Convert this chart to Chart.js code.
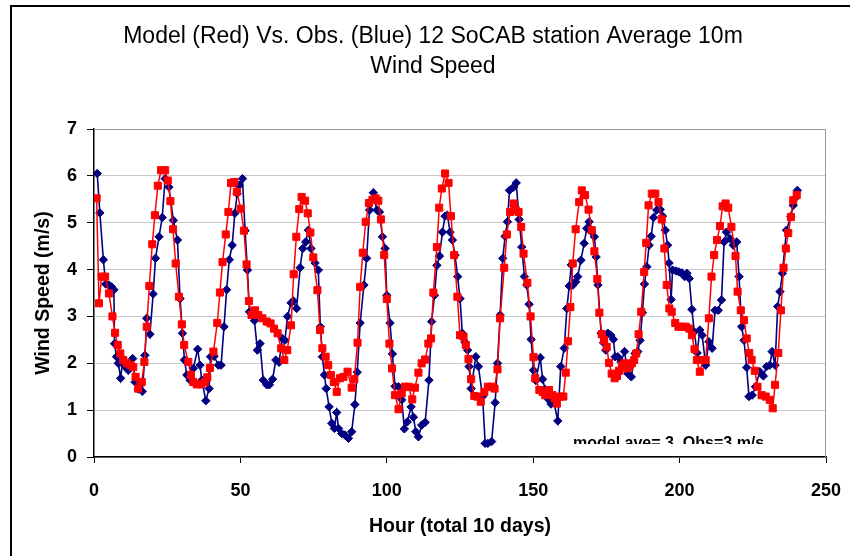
<!DOCTYPE html>
<html>
<head>
<meta charset="utf-8">
<script src="https://cdn.jsdelivr.net/npm/chart.js@4.4.1/dist/chart.umd.min.js"></script>
<style>
  html, body { margin: 0; padding: 0; background: #fff; }
  canvas { display: block; }
</style>
</head>
<body>
<canvas id="windChart" width="850" height="556"></canvas>
<script>
// values (hour, m/s)
const modelHours = [
  0.9, 1.7, 2.6, 3.8, 5.1, 6.3, 7.2, 8.1, 9.0, 10.0,
  11.2, 12.5, 13.4, 14.2, 15.1, 16.3, 17.2, 18.0, 18.9, 19.9,
  20.8, 21.8, 22.9, 24.3, 25.2, 26.1, 27.0, 27.9, 29.0, 30.0,
  30.8, 32.2, 33.1, 33.9, 35.1, 36.6, 37.9, 38.7, 39.6, 40.8,
  42.1, 43.0, 43.9, 45.0, 45.9, 46.8, 47.9, 48.8, 50.1, 51.2,
  52.1, 52.9, 53.8, 55.0, 56.1, 57.5, 59.0, 60.3, 61.5, 62.7,
  63.9, 65.0, 66.0, 67.3, 68.2, 69.1, 70.1, 70.9, 72.1, 73.0,
  73.9, 74.9, 76.3, 77.2, 78.0, 79.1, 80.0, 80.9, 81.9, 82.9,
  84.0, 85.2, 86.6, 88.0, 88.9, 90.0, 90.9, 91.8, 92.8, 93.9,
  95.1, 96.2, 97.1, 98.0, 99.1, 100.0, 100.9, 101.8, 102.8, 104.0,
  105.1, 106.2, 107.4, 108.7, 109.6, 110.8, 111.9, 113.1, 114.2, 115.1,
  115.9, 117.1, 117.9, 118.8, 119.9, 121.1, 121.9, 123.0, 124.1, 125.0,
  126.2, 127.0, 127.9, 128.8, 129.9, 130.9, 132.1, 133.3, 134.5, 135.8,
  136.8, 137.8, 138.7, 140.1, 141.0, 142.1, 143.3, 144.0, 145.0, 145.9,
  146.7, 148.0, 149.1, 150.1, 150.7, 152.1, 153.2, 154.1, 155.4, 156.6,
  157.3, 158.1, 159.2, 160.3, 161.1, 161.9, 162.7, 163.5, 164.5, 165.7,
  166.6, 167.7, 168.9, 170.0, 170.9, 171.9, 172.6, 173.4, 174.2, 175.1,
  175.9, 176.8, 177.8, 178.6, 179.3, 180.3, 181.2, 182.0, 182.8, 183.7,
  184.5, 185.2, 186.0, 186.9, 187.9, 188.6, 189.4, 190.5, 191.7, 192.8,
  193.9, 194.8, 195.6, 196.5, 197.3, 198.5, 199.6, 200.8, 202.1, 203.3,
  204.2, 205.1, 205.9, 206.9, 208.1, 208.9, 210.0, 210.9, 211.8, 212.8,
  213.8, 214.7, 215.7, 216.6, 217.7, 219.1, 219.8, 220.9, 222.0, 222.9,
  223.8, 224.6, 225.7, 226.6, 228.0, 229.4, 230.8, 231.8, 232.6, 233.7,
  234.6, 235.5, 236.3, 237.1, 238.0, 238.8, 240.0
];
const modelSpeed = [
  5.52, 3.28, 3.85, 3.85, 3.49, 3.00, 2.65, 2.39, 2.21, 2.07,
  2.00, 1.96, 1.92, 1.71, 1.46, 1.60, 2.03, 2.78, 3.65, 4.54,
  5.16, 5.79, 6.12, 6.12, 5.90, 5.46, 4.86, 4.13, 3.42, 2.83,
  2.39, 2.03, 1.75, 1.60, 1.55, 1.55, 1.60, 1.70, 1.90, 2.25,
  2.86, 3.51, 4.16, 4.75, 5.23, 5.85, 5.87, 5.66, 5.30, 4.83,
  4.11, 3.33, 3.03, 3.13, 3.03, 2.96, 2.89, 2.85, 2.74, 2.64,
  2.32, 2.07, 2.28, 2.81, 3.90, 4.70, 5.29, 5.55, 5.47, 5.20,
  4.79, 4.26, 3.56, 2.71, 2.32, 2.14, 1.96, 1.75, 1.60, 1.39,
  1.68, 1.71, 1.82, 1.48, 1.66, 2.44, 3.63, 4.36, 5.02, 5.42,
  5.49, 5.52, 5.47, 5.07, 4.31, 3.37, 2.42, 1.89, 1.32, 1.02,
  1.36, 1.50, 1.50, 1.23, 1.48, 1.80, 2.00, 2.08, 2.42, 2.53,
  3.51, 4.48, 5.32, 5.73, 6.05, 5.85, 5.14, 4.31, 3.42, 2.60,
  2.57, 2.39, 2.09, 1.66, 1.30, 1.29, 1.18, 1.39, 1.50, 1.50,
  1.46, 1.87, 2.96, 4.04, 4.75, 5.23, 5.41, 5.27, 5.23, 4.91,
  4.34, 3.72, 3.00, 2.13, 1.68, 1.43, 1.39, 1.32, 1.43, 1.32,
  1.25, 1.14, 1.29, 1.29, 1.80, 2.47, 3.20, 4.13, 4.86, 5.44,
  5.69, 5.59, 5.28, 4.84, 4.39, 3.80, 3.08, 2.62, 2.50, 2.35,
  2.01, 1.78, 1.68, 1.73, 1.84, 1.96, 2.00, 1.89, 1.93, 2.00,
  2.07, 2.21, 2.62, 3.10, 3.95, 4.57, 5.37, 5.62, 5.62, 5.44,
  5.07, 4.45, 3.67, 3.17, 3.10, 2.86, 2.78, 2.78, 2.78, 2.74,
  2.60, 2.30, 2.07, 1.82, 2.07, 2.07, 2.96, 3.85, 4.31, 4.63,
  4.93, 5.35, 5.41, 5.32, 4.91, 4.29, 3.53, 3.13, 2.92, 2.53,
  2.22, 2.07, 1.84, 1.50, 1.32, 1.29, 1.22, 1.04, 1.54, 2.22,
  3.13, 4.04, 4.45, 4.78, 5.12, 5.48, 5.59
];
const obsHours = [
  1.1, 2.0, 3.2, 4.0, 5.1, 6.0, 6.8, 7.0, 7.7, 8.3,
  9.1, 9.8, 10.6, 11.7, 13.2, 14.0, 15.1, 16.5, 17.4, 18.0,
  19.1, 20.2, 21.0, 22.2, 23.3, 24.3, 25.6, 27.1, 28.5, 29.4,
  30.2, 30.9, 31.7, 32.8, 33.9, 35.4, 36.2, 36.8, 38.2, 39.3,
  39.8, 41.0, 42.5, 43.4, 44.4, 45.3, 46.2, 47.2, 48.1, 48.9,
  49.6, 50.7, 51.6, 52.4, 53.1, 53.8, 54.8, 55.8, 56.7, 57.8,
  59.0, 59.9, 61.0, 62.1, 63.2, 64.3, 65.2, 66.1, 67.3, 68.1,
  69.2, 70.4, 71.3, 72.3, 73.2, 74.1, 75.5, 76.6, 77.3, 78.0,
  78.7, 79.3, 80.3, 81.2, 82.1, 82.9, 83.5, 84.6, 85.7, 86.9,
  88.0, 89.1, 89.9, 90.9, 92.2, 93.1, 94.1, 95.4, 96.6, 97.5,
  98.5, 99.4, 100.0, 101.1, 101.9, 102.8, 104.0, 105.1, 106.0, 107.0,
  108.3, 109.1, 109.9, 110.8, 111.9, 113.1, 114.4, 115.3, 116.3, 117.1,
  118.0, 119.0, 119.9, 120.7, 121.6, 122.4, 123.3, 124.2, 125.0, 125.8,
  126.7, 127.6, 128.1, 128.8, 130.4, 131.3, 132.7, 133.6, 134.5, 135.8,
  137.0, 137.8, 138.7, 139.6, 140.4, 141.2, 141.9, 143.3, 144.2, 145.2,
  146.1, 147.0, 147.8, 148.6, 149.3, 150.1, 150.9, 152.4, 153.2, 154.1,
  155.2, 156.1, 156.9, 158.4, 159.4, 160.6, 161.5, 162.3, 163.0, 163.6,
  164.5, 165.2, 166.3, 167.4, 168.3, 169.1, 170.0, 170.9, 171.5, 172.1,
  173.2, 174.0, 174.8, 175.5, 176.5, 177.4, 178.0, 178.9, 180.0, 181.2,
  182.3, 183.5, 184.8, 185.7, 186.5, 187.3, 188.0, 188.8, 189.6, 190.3,
  191.1, 192.2, 193.4, 194.2, 195.1, 195.9, 196.4, 197.1, 197.6, 198.8,
  199.8, 200.8, 201.7, 202.5, 203.3, 204.2, 205.0, 206.0, 206.9, 207.7,
  208.9, 210.0, 211.1, 212.1, 213.2, 214.3, 215.2, 216.0, 217.2, 218.3,
  219.5, 220.3, 221.2, 222.0, 222.9, 223.7, 224.8, 225.9, 227.4, 228.6,
  229.7, 230.8, 231.6, 232.6, 233.5, 234.3, 235.1, 236.5, 238.0, 238.8,
  239.4, 240.2
];
const obsSpeed = [
  6.05, 5.21, 4.21, 3.69, 3.67, 3.63, 3.57, 2.42, 2.14, 2.00,
  1.68, 2.07, 1.93, 1.85, 2.10, 1.60, 1.45, 1.40, 2.17, 2.96,
  2.62, 3.48, 4.24, 4.70, 5.11, 5.94, 5.76, 5.05, 4.63, 3.38,
  2.64, 2.07, 1.75, 1.64, 1.89, 2.30, 1.96, 1.64, 1.20, 1.46,
  2.14, 2.15, 1.96, 1.96, 2.78, 3.57, 4.21, 4.52, 5.20, 5.62,
  5.80, 5.94, 4.83, 3.99, 3.10, 3.06, 2.91, 2.28, 2.42, 1.64,
  1.54, 1.54, 1.66, 2.07, 2.02, 2.53, 2.49, 3.00, 3.29, 3.33,
  3.17, 4.04, 4.45, 4.59, 4.84, 4.45, 4.14, 3.99, 2.78, 2.14,
  1.75, 1.46, 1.07, 0.72, 0.61, 0.95, 0.61, 0.50, 0.47, 0.40,
  0.54, 1.12, 1.81, 2.86, 3.67, 4.24, 5.27, 5.64, 5.27, 5.23,
  4.70, 4.45, 3.45, 2.86, 2.20, 1.51, 1.50, 1.22, 0.60, 0.75,
  1.07, 0.85, 0.54, 0.43, 0.68, 0.74, 1.64, 2.89, 3.45, 4.09,
  4.29, 4.80, 5.14, 5.16, 4.80, 4.63, 4.31, 3.85, 3.38, 2.64,
  2.45, 2.28, 1.93, 1.46, 2.14, 1.93, 1.29, 0.29, 0.29, 0.33,
  1.16, 2.00, 3.03, 4.24, 4.71, 5.02, 5.69, 5.76, 5.85, 5.07,
  4.48, 3.85, 3.67, 3.26, 2.51, 1.85, 1.63, 2.12, 1.66, 1.44,
  1.23, 1.13, 1.22, 0.77, 1.93, 2.32, 3.17, 3.65, 4.10, 3.67,
  3.74, 3.85, 4.20, 4.56, 4.88, 5.02, 4.80, 4.70, 4.27, 3.67,
  2.64, 2.44, 2.28, 2.64, 2.60, 2.51, 2.14, 2.14, 2.03, 2.25,
  1.78, 1.71, 2.21, 2.25, 2.49, 3.08, 3.69, 4.06, 4.52, 4.71,
  5.11, 5.27, 5.28, 5.14, 4.84, 4.52, 4.14, 3.36, 3.99, 3.97,
  3.95, 3.93, 3.85, 3.92, 3.81, 3.15, 2.67, 2.22, 2.71, 2.60,
  1.96, 2.46, 2.32, 3.13, 3.13, 3.35, 4.59, 4.80, 4.66, 4.52,
  4.59, 3.85, 2.78, 2.49, 1.91, 1.29, 1.32, 1.50, 1.82, 1.73,
  1.93, 1.96, 2.25, 1.96, 3.21, 3.53, 3.92, 4.84, 5.14, 5.37,
  5.52, 5.69
];

const xTickValues = [0, 50, 100, 150, 200, 250];
const yTickValues = [0, 1, 2, 3, 4, 5, 6, 7];

const chartTitle = ['Model (Red) Vs. Obs. (Blue) 12 SoCAB station Average 10m', 'Wind Speed'];
const xTitle = 'Hour (total 10 days)';
const yTitle = 'Wind Speed (m/s)';
const noteText = 'model ave= 3, Obs=3 m/s';

const FONT = '"Liberation Sans", Arial, sans-serif';
Chart.defaults.font.family = FONT;
Chart.defaults.color = '#000';

function toPoints(hours, values) {
    return hours.map((h, i) => ({ x: h, y: values[i] }));
}

const decorPlugin = {
    id: 'decor',
    beforeDraw(chart) {
        const ctx = chart.ctx;
        ctx.save();
        ctx.fillStyle = '#fff';
        ctx.fillRect(0, 0, chart.width, chart.height);
        // outer frame (left and top)
        ctx.strokeStyle = '#000';
        ctx.lineWidth = 2;
        ctx.beginPath();
        ctx.moveTo(11, chart.height);
        ctx.lineTo(11, 6);
        ctx.lineTo(chart.width, 6);
        ctx.stroke();
        ctx.restore();
    },
    beforeDatasetsDraw(chart) {
        const { ctx, chartArea } = chart;
        ctx.save();
        ctx.strokeStyle = '#999';
        ctx.lineWidth = 1;
        ctx.beginPath();
        ctx.moveTo(chartArea.left, chartArea.top + 0.5);
        ctx.lineTo(chartArea.right - 0.5, chartArea.top + 0.5);
        ctx.lineTo(chartArea.right - 0.5, chartArea.bottom);
        ctx.stroke();
        ctx.restore();
    },
    afterDraw(chart) {
        const { ctx, chartArea } = chart;
        ctx.save();
        ctx.fillStyle = '#000';
        ctx.textAlign = 'center';
        ctx.textBaseline = 'middle';

        ctx.font = '23px ' + FONT;
        ctx.fillText(chartTitle[0], 433, 37);
        ctx.fillText(chartTitle[1], 433, 67);

        ctx.font = 'bold 19.5px ' + FONT;
        ctx.fillText(xTitle, (chartArea.left + chartArea.right) / 2, 527);

        ctx.save();
        ctx.translate(44, (chartArea.top + chartArea.bottom) / 2);
        ctx.rotate(-Math.PI / 2);
        ctx.fillText(yTitle, 0, 0);
        ctx.restore();

        // note is cut off at its baseline in the original
        ctx.beginPath();
        ctx.rect(560, 420, 260, 24);
        ctx.clip();
        ctx.textAlign = 'left';
        ctx.textBaseline = 'alphabetic';
        ctx.font = 'bold 16px ' + FONT;
        ctx.fillText(noteText, 573, 447.5);
        ctx.restore();
    }
};

const ctx = document.getElementById('windChart').getContext('2d');
new Chart(ctx, {
    type: 'line',
    data: {
        datasets: [
            {
                label: 'Model',
                data: toPoints(modelHours, modelSpeed),
                borderColor: '#ff0000',
                backgroundColor: '#ff0000',
                borderWidth: 1.5,
                pointStyle: 'rect',
                pointRadius: 5,
                pointBorderWidth: 1,
                tension: 0
            },
            {
                label: 'Obs',
                data: toPoints(obsHours, obsSpeed),
                borderColor: '#000080',
                backgroundColor: '#000080',
                borderWidth: 1.6,
                pointStyle: 'rectRot',
                pointRadius: 4.2,
                pointBorderWidth: 1,
                tension: 0
            }
        ]
    },
    options: {
        responsive: false,
        animation: false,
        layout: { padding: { left: 0, right: 24, top: 129, bottom: 0 } },
        plugins: {
            legend: { display: false },
            title: { display: false },
            tooltip: { enabled: false }
        },
        scales: {
            x: {
                type: 'linear',
                min: 0,
                max: 250,
                afterBuildTicks: (scale) => { scale.ticks = xTickValues.map(v => ({ value: v })); },
                afterFit: (scale) => {
                    scale.height = 99;
                    scale.paddingLeft = 0;
                    scale.paddingRight = 0;
                },
                grid: { drawOnChartArea: false, drawTicks: true, tickLength: 6, tickColor: '#000', color: '#000' },
                border: { display: true, color: '#000', width: 1.5 },
                ticks: { font: { size: 18, weight: 'bold' }, color: '#000', padding: 17, maxRotation: 0 }
            },
            y: {
                min: 0,
                max: 7,
                afterBuildTicks: (scale) => { scale.ticks = yTickValues.map(v => ({ value: v })); },
                afterFit: (scale) => {
                    scale.width = 94;
                    scale.paddingTop = 0;
                    scale.paddingBottom = 0;
                },
                grid: { color: '#c8c8c8', lineWidth: 1, drawTicks: true, tickLength: 7, tickColor: '#000' },
                border: { display: true, color: '#000', width: 1.5 },
                ticks: { font: { size: 18, weight: 'bold' }, color: '#000', padding: 10 }
            }
        }
    },
    plugins: [decorPlugin]
});
</script>
</body>
</html>
